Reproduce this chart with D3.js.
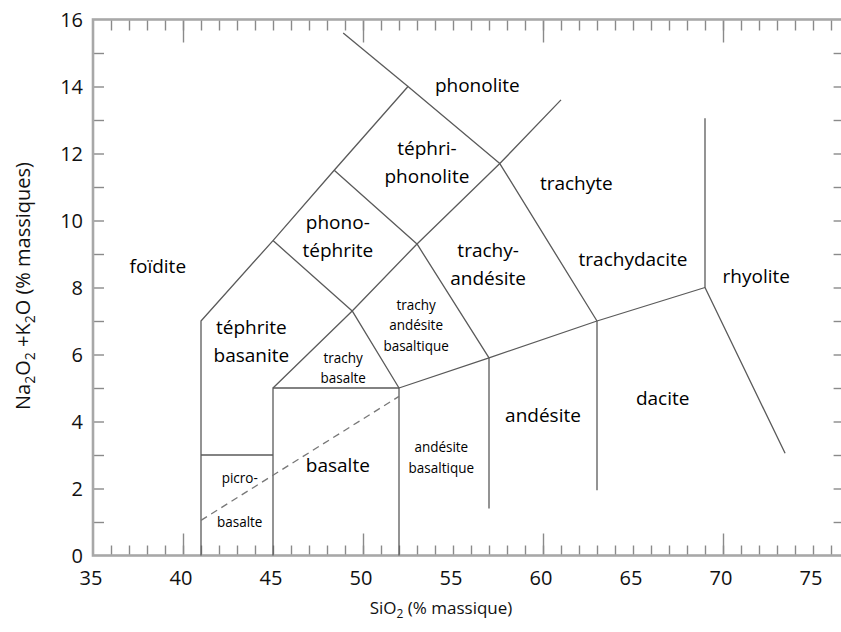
<!DOCTYPE html>
<html><head><meta charset="utf-8">
<script src="https://cdn.jsdelivr.net/npm/d3@7/dist/d3.min.js"></script>
<style>
html,body{margin:0;padding:0;background:#fff;}
svg{display:block;font-family:"Open Sans",sans-serif;}
</style></head><body>
<svg id="chart" width="841" height="632"></svg>
<script>
// ---- data ----
const xDomain = [35, 76.7];
const yDomain = [0, 16];
const xTickLabels = [35, 40, 45, 50, 55, 60, 65, 70, 75];
const yTickLabels = [0, 2, 4, 6, 8, 10, 12, 14, 16];
const xMinorTicks = d3.range(36, 77);
const xMajorTicks = [40, 50, 60, 70];
const yMinorTicks = d3.range(1, 16);

// field boundaries (SiO2, Na2O+K2O)
const lineLeftTop   = [[41,0],[41,7],[45,9.4],[48.4,11.5],[52.5,14],[57.6,11.7],[63,7],[63,1.95]];
const linePhonolite = [[52.5,14],[48.9,15.6]];
const linePicro     = [[41,3],[45,3]];
const lineBasalt    = [[45,0],[45,5],[52,5],[52,0]];
const lineSubalk    = [[45,5],[49.4,7.3],[52,5],[57,5.9],[63,7],[69,8],[73.45,3.05]];
const lineAndesite  = [[57,1.4],[57,5.9],[53,9.3],[57.6,11.7],[61,13.6]];
const lineTephrite  = [[45,9.4],[49.4,7.3],[53,9.3],[48.4,11.5]];
const lineRhyolite  = [[69,8],[69,13.05]];
const lineDashed    = [[41,1.05],[52,4.75]];

// field names
const fieldNames = [
  ["foïdite"], ["phonolite"], ["téphri-","phonolite"], ["phono-","téphrite"],
  ["trachyte"], ["trachy-","andésite"], ["trachydacite"], ["rhyolite"],
  ["téphrite","basanite"], ["trachy","basalte"], ["trachy","andésite","basaltique"],
  ["andésite","basaltique"], ["andésite"], ["dacite"], ["basalte"], ["picro-"], ["basalte"]
];
const fieldX = [38.6, 56.35, 53.55, 48.6, 61.85, 56.95, 65.0, 71.85, 43.8, 48.9, 52.95, 54.35, 60.0, 66.65, 48.6, 43.15, 43.15];
const fieldY = [8.64, 14.04, 11.75, 9.52, 11.12, 8.70, 8.85, 8.34, 6.40, 5.61, 6.88, 2.93, 4.19, 4.70, 2.70, 2.31, 1.00];
const fieldStyle = ["n","n","n","n","n","n","n","n","n","c","c","c","n","n","n","c","c"];

// ---- drawing ----
const svg = d3.select("#chart");
const x = d3.scaleLinear().domain(xDomain).range([93, 843.6]);
const y = d3.scaleLinear().domain(yDomain).range([555.5, 19.5]);
const line = d3.line().x(d => x(d[0])).y(d => y(d[1]));

const axisCol = "#a8a8a8", tickCol = "#8a8a8a", lineCol = "#5a5a5a";

// ticks
const gT = svg.append("g");
gT.append("g").attr("transform", `translate(0,${y(0)})`)
  .call(d3.axisBottom(x).tickValues(xMinorTicks).tickSize(-10).tickFormat(""))
  .call(g => g.select(".domain").remove());
gT.append("g").attr("transform", `translate(0,${y(0)})`)
  .call(d3.axisBottom(x).tickValues(xMajorTicks).tickSize(-22).tickFormat(""))
  .call(g => g.select(".domain").remove());
gT.append("g").attr("transform", `translate(0,${y(16)})`)
  .call(d3.axisTop(x).tickValues(xMinorTicks).tickSize(-11).tickFormat(""))
  .call(g => g.select(".domain").remove());
gT.append("g").attr("transform", `translate(0,${y(16)})`)
  .call(d3.axisTop(x).tickValues(xMajorTicks).tickSize(-23).tickFormat(""))
  .call(g => g.select(".domain").remove());
gT.append("g").attr("transform", `translate(${x(35)},0)`)
  .call(d3.axisLeft(y).tickValues(yMinorTicks).tickSize(-11).tickFormat(""))
  .call(g => g.select(".domain").remove());
gT.append("g").attr("transform", `translate(${x(xDomain[1])},0)`)
  .call(d3.axisRight(y).tickValues(yMinorTicks).tickSize(-10).tickFormat(""))
  .call(g => g.select(".domain").remove());
gT.selectAll("line").attr("stroke", tickCol).attr("stroke-width", 1.4);

// frame
svg.append("rect")
  .attr("x", x(35)).attr("y", y(16))
  .attr("width", x(xDomain[1]) - x(35)).attr("height", y(0) - y(16))
  .attr("fill", "none").attr("stroke", axisCol).attr("stroke-width", 2.6);

// tick labels
svg.append("g").selectAll("text").data(xTickLabels).join("text")
  .attr("x", d => x(d) - 2).attr("y", y(0) + 29)
  .attr("text-anchor", "middle").attr("font-size", 20).attr("fill", "#111")
  .text(d => d);
svg.append("g").selectAll("text").data(yTickLabels).join("text")
  .attr("x", x(35) - 10).attr("y", d => y(d)).attr("dy", "0.36em")
  .attr("text-anchor", "end").attr("font-size", 20).attr("fill", "#111")
  .text(d => d);

// boundaries
const solid = [lineLeftTop, linePhonolite, linePicro, lineBasalt, lineSubalk, lineAndesite, lineTephrite, lineRhyolite];
svg.append("g").selectAll("path").data(solid).join("path")
  .attr("d", line).attr("fill", "none").attr("stroke", lineCol)
  .attr("stroke-width", 1.3).attr("stroke-linejoin", "round");
svg.append("path").datum(lineDashed).attr("d", line)
  .attr("fill", "none").attr("stroke", "#777").attr("stroke-width", 1.3)
  .attr("stroke-dasharray", "7,5");

// field names
const gL = svg.append("g");
fieldNames.forEach((lines, i) => {
  const cond = fieldStyle[i] === "c";
  const fs = cond ? 15 : 19;
  const lh = cond ? 20.5 : 28;
  const cx = x(fieldX[i]), cy = y(fieldY[i]);
  const t = gL.append("text")
    .attr("transform", `translate(${cx},${cy}) scale(${cond ? 0.9 : 1},1)`)
    .attr("text-anchor", "middle").attr("font-size", fs).attr("fill", "#000");
  lines.forEach((s, k) => {
    t.append("tspan").attr("x", 0)
      .attr("y", (k - (lines.length - 1) / 2) * lh).attr("dy", "0.35em").text(s);
  });
});

// axis titles
const xt = svg.append("text").attr("x", 441).attr("y", 614)
  .attr("text-anchor", "middle").attr("font-size", 17).attr("fill", "#111");
xt.append("tspan").text("SiO");
xt.append("tspan").attr("font-size", 12).attr("dy", 4).text("2");
xt.append("tspan").attr("dy", -4).text(" (% massique)");

const yt = svg.append("text").attr("transform", "translate(30,286) rotate(-90)")
  .attr("text-anchor", "middle").attr("font-size", 20).attr("fill", "#111");
yt.append("tspan").text("Na");
yt.append("tspan").attr("font-size", 14).attr("dy", 5).text("2");
yt.append("tspan").attr("dy", -5).text("O");
yt.append("tspan").attr("font-size", 14).attr("dy", 5).text("2");
yt.append("tspan").attr("dy", -5).text(" +K");
yt.append("tspan").attr("font-size", 14).attr("dy", 5).text("2");
yt.append("tspan").attr("dy", -5).text("O (% massiques)");
</script>
</body></html>
